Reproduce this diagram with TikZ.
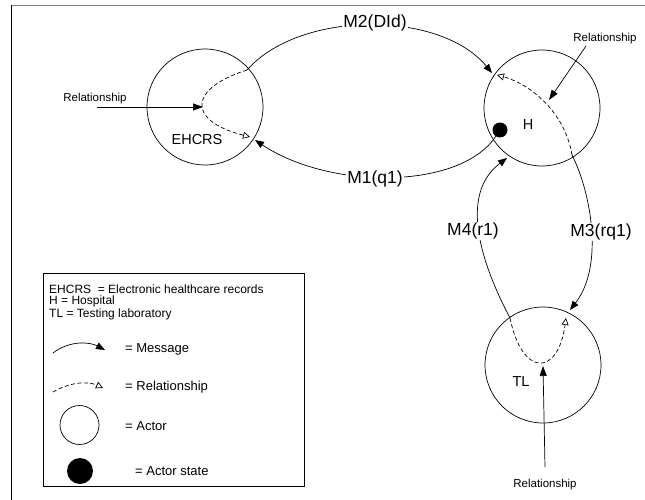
\documentclass[tikz,border=0pt]{standalone}
\usepackage{fontspec}
\setmainfont{Liberation Sans}
\usetikzlibrary{arrows.meta}
\begin{document}
\begin{tikzpicture}[x=1pt,y=-1pt,
  actor/.style={draw,circle,line width=0.7pt,minimum size=116pt,inner sep=0pt},
  statedot/.style={fill=black,circle,minimum size=15pt,inner sep=0pt},
  msg/.style={line width=0.7pt,-{Triangle[length=9pt,width=7pt]}},
  rel/.style={line width=0.7pt,dash pattern=on 4pt off 2.5pt,-{Triangle[open,length=7pt,width=7pt]}},
  relarrow/.style={line width=0.7pt,-{Triangle[length=10pt,width=7pt]}},
  mlabel/.style={fill=white,inner sep=1pt,font=\fontsize{17.5}{20}\selectfont},
  alabel/.style={inner sep=0pt,font=\fontsize{14.5}{17}\selectfont},
  small/.style={inner sep=0pt,font=\fontsize{11.5}{13}\selectfont},
  legtext/.style={inner sep=0pt,anchor=west,font=\fontsize{13}{15}\selectfont}
]
\useasboundingbox (0,0) rectangle (645,500);
% outer frame
\draw[gray,line width=1.6pt] (11,5.5) -- (645,5.5);
\draw[line width=0.8pt] (11,5.5) -- (11,500);

% actors
\node[actor] (E) at (205,107) {};
\node[actor] (H) at (542,108) {};
\node[actor] (T) at (543,365) {};
\node[alabel] (Elab) at (197,140) {EHCRS};
\node[alabel] (Hlab) at (528,125) {H};
\node[alabel] (Tlab) at (521,382) {TL};
\node[statedot] (dot) at (500,130) {};

% key points
\coordinate (m2s) at (247,70);
\coordinate (m2e) at (492,73);
\coordinate (e1) at (250,137);
\coordinate (m1e) at (255,140);
\coordinate (h1) at (497,75);
\coordinate (m3s) at (572,155);
\coordinate (m3e) at (570,310);
\coordinate (t1) at (566,318);
\coordinate (m4s) at (510,318);
\coordinate (m4e) at (507,158);

% relationships (dashed)
\draw[rel] (m2s) .. controls (190,88) and (185,120) .. (e1);
\draw[rel] (m3s) .. controls (565,112) and (530,84) .. (h1);
\draw[rel] (m4s) .. controls (522,377) and (558,377) .. (t1);

% messages
\draw[msg] (m2s) .. controls (300,10) and (440,10) .. (m2e);
\draw[msg] (dot) .. controls (460,190) and (330,190) .. (m1e);
\draw[msg] (m3s) .. controls (590,190) and (605,265) .. (m3e);
\draw[msg] (m4s) .. controls (482,265) and (458,195) .. (m4e);

\node[mlabel] (M2) at (375,23) {M2(DId)};
\node[mlabel] (M1) at (375,179) {M1(q1)};
\node[mlabel] (M4) at (473,231) {M4(r1)};
\node[mlabel] (M3) at (601,232) {M3(rq1)};

% relationship pointers
\node[small] (rE) at (95,99) {Relationship};
\coordinate (rEs) at (97,107);
\coordinate (rEe) at (203,107);
\draw[relarrow] (rEs) -- (rEe);

\node[small] (rH) at (605,39) {Relationship};
\coordinate (rHs) at (586,46);
\coordinate (rHe) at (549,100);
\draw[relarrow] (rHs) -- (rHe);

\node[small] (rT) at (545,485) {Relationship};
\coordinate (rTs) at (545,467);
\coordinate (rTe) at (543,366);
\draw[relarrow] (rTs) -- (rTe);

% legend
\draw[line width=0.7pt] (43,273) rectangle (304,486);
\node[inner sep=0pt,anchor=north west,align=left,font=\fontsize{12}{11}\selectfont] (L1) at (49,285)
  {EHCRS\ \ = Electronic healthcare records\\H = Hospital\\TL = Testing laboratory};
\coordinate (lm1) at (53,353);
\coordinate (lm2) at (105,350);
\draw[msg] (lm1) .. controls (70,340) and (90,342) .. (lm2);
\node[legtext] (L4) at (125,349) {= Message};
\coordinate (lr1) at (53,392);
\coordinate (lr2) at (103,388);
\draw[rel] (lr1) .. controls (70,382) and (88,381) .. (lr2);
\node[legtext] (L5) at (125,387) {= Relationship};
\node[draw,circle,line width=0.7pt,minimum size=39pt,inner sep=0pt] (la) at (79.5,425) {};
\node[legtext] (L6) at (125,426) {= Actor};
\node[fill=black,circle,minimum size=26pt,inner sep=0pt] (ls) at (80,471) {};
\node[legtext] (L7) at (135,471) {= Actor state};
\end{tikzpicture}
\end{document}
